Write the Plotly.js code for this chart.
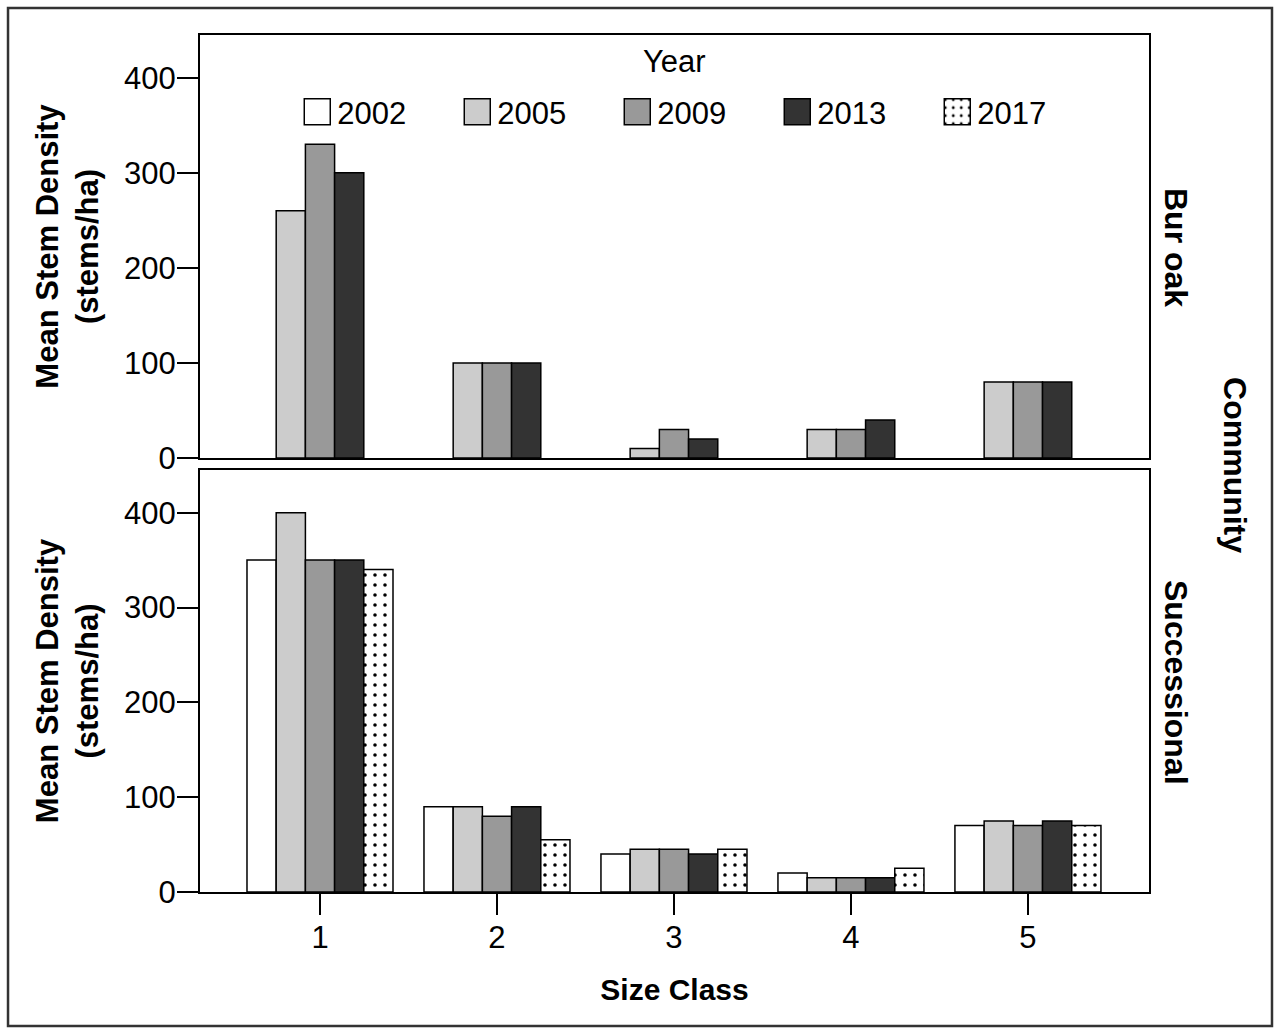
<!DOCTYPE html>
<html><head><meta charset="utf-8">
<script src="https://cdn.plot.ly/plotly-3.0.1.min.js"></script>
<style>body{margin:0;background:#fff}#chart{width:1275px;height:1028px}</style>
</head><body><div id="chart"></div>
<script>
const sizeClasses = [1, 2, 3, 4, 5];
const years = ['2002', '2005', '2009', '2013', '2017'];
// Bur oak community
const burOak2002 = [null, null, null, null, null];
const burOak2005 = [260, 100, 10, 30, 80];
const burOak2009 = [330, 100, 30, 30, 80];
const burOak2013 = [300, 100, 20, 40, 80];
const burOak2017 = [null, null, null, null, null];
// Successional community
const succ2002 = [350, 90, 40, 20, 70];
const succ2005 = [400, 90, 45, 15, 75];
const succ2009 = [350, 80, 45, 15, 70];
const succ2013 = [350, 90, 40, 15, 75];
const succ2017 = [340, 55, 45, 25, 70];
const yTicks = [0, 100, 200, 300, 400];

const fills = ['#ffffff', '#cccccc', '#999999', '#333333', '#ffffff'];
const burOak = [burOak2002, burOak2005, burOak2009, burOak2013, burOak2017];
const succ = [succ2002, succ2005, succ2009, succ2013, succ2017];

function marker(i) {
  const m = {color: fills[i], line: {color: '#000', width: 1.5}};
  if (i === 4) m.pattern = {shape: '.', fgcolor: '#000', bgcolor: '#fff', size: 10, solidity: 0.1, fillmode: 'replace'};
  return m;
}
const traces = [];
years.forEach((y, i) => {
  traces.push({type: 'bar', x: sizeClasses, y: burOak[i], name: y, xaxis: 'x2', yaxis: 'y2',
    marker: marker(i), legendgroup: y, showlegend: true, hoverinfo: 'skip'});
});
years.forEach((y, i) => {
  traces.push({type: 'bar', x: sizeClasses, y: succ[i], name: y, xaxis: 'x', yaxis: 'y',
    marker: marker(i), legendgroup: y, showlegend: false, hoverinfo: 'skip'});
});

const font = 'Liberation Sans, Arial, sans-serif';
const yax = {
  range: [0, 445], tickvals: yTicks, ticks: 'outside', ticklen: 21, tickwidth: 2, tickcolor: '#000',
  showline: true, linecolor: '#000', linewidth: 2, mirror: true, showgrid: false, zeroline: false,
  tickfont: {size: 31, color: '#000', family: font}, ticklabelstandoff: -5,
  title: {text: '<b>Mean Stem Density<br>(stems/ha)</b>', font: {size: 31, color: '#000', family: font}, standoff: 16}
};
const layout = {
  width: 1275, height: 1028,
  margin: {l: 200, r: 126, t: 35, b: 136},
  paper_bgcolor: '#fff', plot_bgcolor: '#fff',
  barmode: 'group', bargap: 0.175, bargroupgap: 0,
  font: {family: font, color: '#000'},
  xaxis: {range: [0.322, 5.684], tickvals: sizeClasses, ticks: 'outside', ticklen: 21, tickwidth: 2, tickcolor: '#000',
    showline: true, linecolor: '#000', linewidth: 2, mirror: true, showgrid: false, zeroline: false,
    tickfont: {size: 31, color: '#000', family: font}, anchor: 'y', ticklabelstandoff: -4,
    title: {text: '<b>Size Class</b>', font: {size: 30, color: '#000', family: font}, standoff: 25}},
  xaxis2: {range: [0.322, 5.684], matches: 'x', showticklabels: false, ticks: '', anchor: 'y2',
    showline: true, linecolor: '#000', linewidth: 2, mirror: true, showgrid: false, zeroline: false},
  yaxis: Object.assign({}, yax, {domain: [0, 0.4924], anchor: 'x'}),
  yaxis2: Object.assign({}, yax, {domain: [0.5064, 1], anchor: 'x2'}),
  showlegend: true,
  legend: {orientation: 'h', x: 0.524, xanchor: 'center', y: 0.9416, yanchor: 'top',
    font: {size: 31, color: '#000', family: font}, entrywidth: 115, itemwidth: 30,
    bgcolor: 'rgba(0,0,0,0)'},
  shapes: [
    {type: 'rect', xref: 'paper', yref: 'paper', x0: -0.2023, x1: 1.1296, y0: -0.1564, y1: 1.0315,
      line: {color: '#333', width: 2.5}, fillcolor: 'rgba(0,0,0,0)'}
  ],
  annotations: [
    {text: 'Year', xref: 'paper', yref: 'paper', x: 0.5, y: 0.9685, xanchor: 'center', yanchor: 'middle',
      showarrow: false, font: {size: 31, color: '#000', family: font}},
    {text: '<b>Bur oak</b>', xref: 'paper', yref: 'paper', x: 1.0285, y: 0.7526, textangle: 90,
      xanchor: 'center', yanchor: 'middle', showarrow: false, font: {size: 32, color: '#000', family: font}},
    {text: '<b>Successional</b>', xref: 'paper', yref: 'paper', x: 1.0285, y: 0.2450, textangle: 90,
      xanchor: 'center', yanchor: 'middle', showarrow: false, font: {size: 32, color: '#000', family: font}},
    {text: '<b>Community</b>', xref: 'paper', yref: 'paper', x: 1.0906, y: 0.4982, textangle: 90,
      xanchor: 'center', yanchor: 'middle', showarrow: false, font: {size: 32, color: '#000', family: font}}
  ]
};
Plotly.newPlot('chart', traces, layout, {displayModeBar: false, staticPlot: true}).then(gd => {
  // enlarge legend swatches to match the reference's big squares
  gd.querySelectorAll('.legendpoints path').forEach(p => {
    p.setAttribute('d', 'M13,13H-13V-13H13Z');
  });
});
</script></body></html>
